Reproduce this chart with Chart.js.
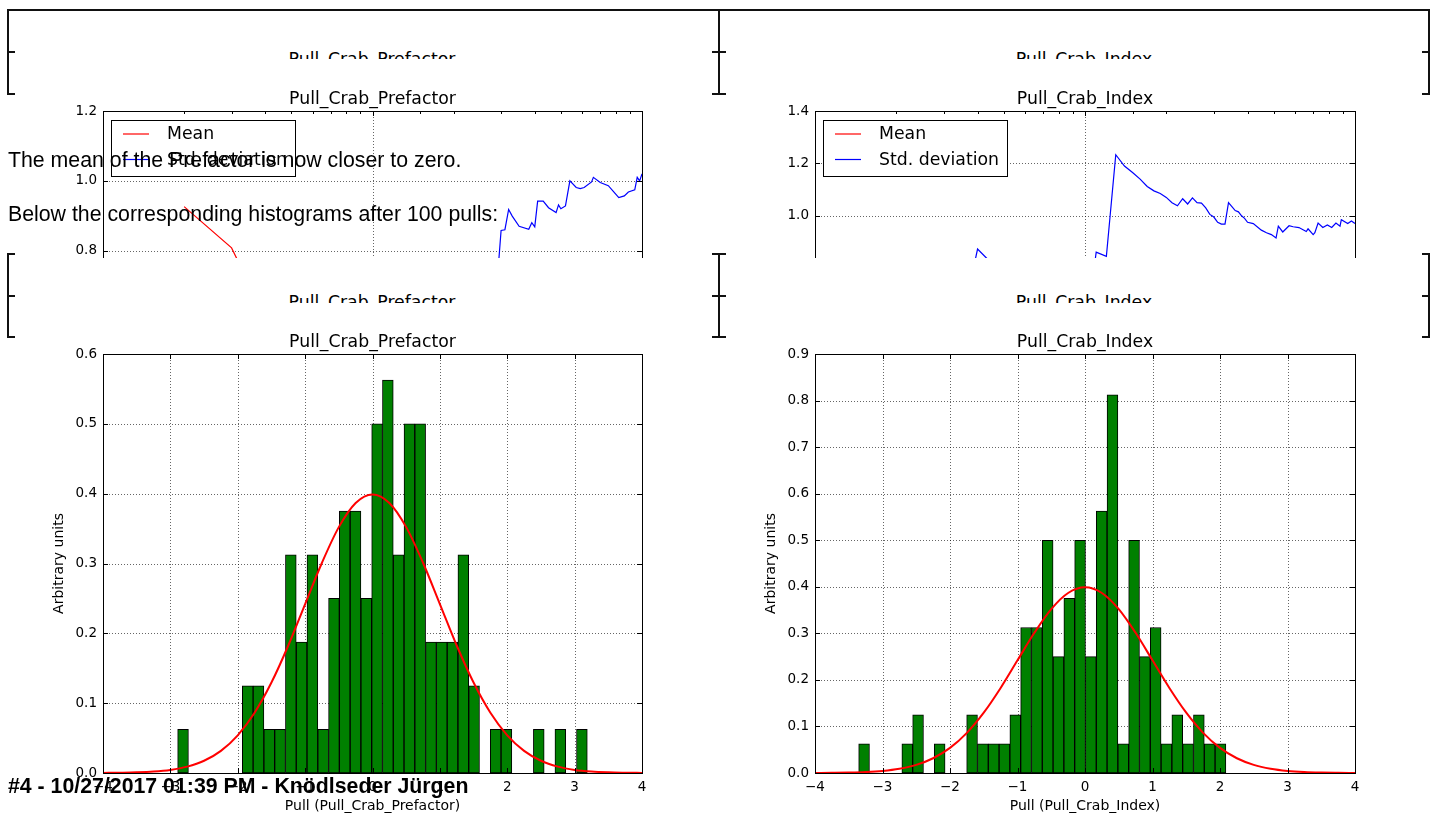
<!DOCTYPE html>
<html>
<head>
<meta charset="utf-8">
<script src="https://cdn.jsdelivr.net/npm/chart.js@4/dist/chart.umd.min.js"></script>
<style>
  html, body { margin:0; padding:0; background:#fff; width:1437px; height:819px; overflow:hidden; }
  .abs { position:absolute; }
  .ln { position:absolute; background:#111; }
  .clipT { position:absolute; overflow:hidden; height:8px; width:300px; }
  .clipT span { position:absolute; left:0; width:300px; text-align:center; top:-2.4px; font-family:"DejaVu Sans"; font-size:17.3px; line-height:20px; color:#000; white-space:nowrap; }
  .para { position:absolute; left:8px; font-family:"Liberation Sans", Arial, sans-serif; font-size:21.3px; line-height:21.3px; color:#000; white-space:nowrap; }
  .wrap { position:absolute; overflow:hidden; }
</style>
</head>
<body>
<!-- top (clipped) charts -->
<div class="wrap" style="left:0;top:60px;width:1437px;height:198px;">
  <canvas id="cTopL" width="620" height="492" style="position:absolute;left:47px;top:24px;width:620px;height:492px;"></canvas>
  <canvas id="cTopR" width="621" height="492" style="position:absolute;left:759px;top:24px;width:621px;height:492px;"></canvas>
</div>
<!-- histograms -->
<canvas id="cHistL" width="620" height="492" class="abs" style="left:47px;top:327px;width:620px;height:492px;"></canvas>
<canvas id="cHistR" width="621" height="492" class="abs" style="left:759px;top:327px;width:621px;height:492px;"></canvas>

<!-- clipped image titles -->
<div class="clipT" style="left:222px;top:51px;"><span>Pull_Crab_Prefactor</span></div>
<div class="clipT" style="left:934px;top:51px;"><span>Pull_Crab_Index</span></div>
<div class="clipT" style="left:222px;top:294px;height:8.7px;"><span>Pull_Crab_Prefactor</span></div>
<div class="clipT" style="left:934px;top:294px;height:8.7px;"><span>Pull_Crab_Index</span></div>

<!-- page text -->
<div class="para" style="top:150px;">The mean of the Prefactor is now closer to zero.</div>
<div class="para" style="top:204px;">Below the corresponding histograms after 100 pulls:</div>
<div class="para" style="top:775.5px;font-weight:bold;">#4 - 10/27/2017 01:39 PM - Knödlseder Jürgen</div>

<!-- table borders -->
<div class="ln" style="left:7px;top:9px;width:1423px;height:2px;"></div>
<div class="ln" style="left:7px;top:9px;width:2px;height:86px;"></div>
<div class="ln" style="left:718px;top:9px;width:2px;height:86px;"></div>
<div class="ln" style="left:1428px;top:9px;width:2px;height:86px;"></div>
<div class="ln" style="left:7px;top:51px;width:8px;height:2px;"></div>
<div class="ln" style="left:7px;top:93px;width:8px;height:2px;"></div>
<div class="ln" style="left:712px;top:51px;width:14px;height:2px;"></div>
<div class="ln" style="left:712px;top:93px;width:14px;height:2px;"></div>
<div class="ln" style="left:1422px;top:51px;width:8px;height:2px;"></div>
<div class="ln" style="left:1422px;top:93px;width:8px;height:2px;"></div>

<div class="ln" style="left:7px;top:253px;width:2px;height:85px;"></div>
<div class="ln" style="left:718px;top:253px;width:2px;height:85px;"></div>
<div class="ln" style="left:1428px;top:253px;width:2px;height:85px;"></div>
<div class="ln" style="left:7px;top:253px;width:8px;height:2px;"></div>
<div class="ln" style="left:7px;top:295px;width:8px;height:2px;"></div>
<div class="ln" style="left:7px;top:336px;width:8px;height:2px;"></div>
<div class="ln" style="left:712px;top:253px;width:14px;height:2px;"></div>
<div class="ln" style="left:712px;top:295px;width:14px;height:2px;"></div>
<div class="ln" style="left:712px;top:336px;width:14px;height:2px;"></div>
<div class="ln" style="left:1422px;top:253px;width:8px;height:2px;"></div>
<div class="ln" style="left:1422px;top:295px;width:8px;height:2px;"></div>
<div class="ln" style="left:1422px;top:336px;width:8px;height:2px;"></div>

<script>
// ---------------- data ----------------
// Histogram: Pull_Crab_Prefactor (bin centres, normalised density)
const prefactorBinCenters = [-2.812,-2.652,-2.492,-2.332,-2.172,-2.012,-1.852,-1.692,-1.532,-1.372,
  -1.212,-1.052,-0.892,-0.732,-0.572,-0.412,-0.252,-0.092,0.068,0.228,
  0.388,0.548,0.708,0.868,1.028,1.188,1.348,1.508,1.668,1.828,
  1.988,2.148,2.308,2.468,2.628,2.788,2.948,3.108];
const prefactorDensity = [0.0625,0,0,0,0,0,0.125,0.125,0.0625,0.0625,
  0.3125,0.1875,0.3125,0.0625,0.25,0.375,0.375,0.25,0.5,0.5625,
  0.3125,0.5,0.5,0.1875,0.1875,0.1875,0.3125,0.125,0,0.0625,
  0.0625,0,0,0.0625,0,0.0625,0,0.0625];

// Histogram: Pull_Crab_Index
const indexBinCenters = [-3.273,-3.113,-2.953,-2.793,-2.633,-2.473,-2.313,-2.153,-1.993,-1.833,
  -1.673,-1.513,-1.353,-1.193,-1.033,-0.873,-0.713,-0.553,-0.393,-0.233,
  -0.073,0.087,0.247,0.407,0.567,0.727,0.887,1.047,1.207,1.367,
  1.527,1.687,1.847,2.007];
const indexDensity = [0.0625,0,0,0,0.0625,0.125,0,0.0625,0,0,
  0.125,0.0625,0.0625,0.0625,0.125,0.3125,0.3125,0.5,0.25,0.375,
  0.5,0.25,0.5625,0.8125,0.0625,0.5,0.25,0.3125,0.0625,0.125,
  0.0625,0.125,0.0625,0.0625];

// Reference normal curve
const gaussX = [-4,-3.75,-3.5,-3.25,-3,-2.75,-2.5,-2.25,-2,-1.75,-1.5,-1.25,-1,-0.75,-0.5,-0.25,0,
  0.25,0.5,0.75,1,1.25,1.5,1.75,2,2.25,2.5,2.75,3,3.25,3.5,3.75,4];
const gaussY = [0.0001,0.0004,0.0009,0.002,0.0044,0.0091,0.0175,0.0317,0.054,0.0863,0.1295,0.1826,0.242,0.3011,0.3521,0.3867,0.3989,
  0.3867,0.3521,0.3011,0.242,0.1826,0.1295,0.0863,0.054,0.0317,0.0175,0.0091,0.0044,0.002,0.0009,0.0004,0.0001];

// Running mean / std vs number of pulls (only the visible part of the plots)
const meanPrefactorN = [2,3,4];
const meanPrefactorV = [0.926,0.808,0.61];
const stdPrefactorN = [29,30,31,32,33,35,38,39,40,41,43,45,48,49,50,52,54,57,59,61,65,66,70,75,79,82,86,89,94,96,98,100];
const stdPrefactorV = [0.71,0.858,0.86,0.918,0.899,0.87,0.861,0.88,0.868,0.942,0.942,0.923,0.909,0.931,0.92,0.928,1.0,0.981,0.978,0.981,0.997,1.01,0.995,0.986,0.966,0.952,0.957,0.968,0.974,1.01,1.0,1.02];

const meanIndexN = [];
const meanIndexV = [];
const stdIndexN = [3,4,5,10,11,12,13,14,15,16,17,18,19,20,21,22,23,24,25,26,27,28,29,30,31,32,33,34,35,36,37,38,39,40,42,45,47,49,51,52,54,57,59,62,66,67,70,71,73,76,79,82,85,88,89,94,97,100];
const stdIndexV = [0.27,0.873,0.772,0.525,0.861,0.845,1.233,1.19,1.165,1.14,1.112,1.095,1.085,1.07,1.05,1.038,1.065,1.045,1.068,1.05,1.048,1.03,1.005,0.995,0.975,0.968,0.968,1.05,1.035,1.02,1.015,1.0,0.99,0.975,0.97,0.945,0.935,0.928,0.915,0.96,0.938,0.962,0.958,0.955,0.94,0.95,0.928,0.935,0.972,0.955,0.965,0.955,0.972,0.96,0.985,0.97,0.98,0.97];

const titles = ['Pull_Crab_Prefactor', 'Pull_Crab_Index'];
const seriesLabels = ['Mean', 'Std. deviation'];
const yAxisLabel = 'Arbitrary units';

// ---------------- helpers ----------------
const pts = (xs, ys) => xs.map((x, i) => ({x: x, y: ys[i] === 0 ? null : ys[i]}));
const isDecade = v => Math.abs(Math.log10(v) - Math.round(Math.log10(v))) < 1e-9;
const minusFmt = v => v < 0 ? '\u2212' + Math.abs(v) : String(v);

Chart.defaults.font.family = '"DejaVu Sans", sans-serif';
Chart.defaults.color = '#000';

const mplAxes = {
  id: 'mplAxes',
  beforeDatasetsDraw(chart, args, opts) {
    const {ctx, chartArea: a, scales} = chart;
    ctx.save();
    ctx.strokeStyle = 'rgba(0,0,0,0.6)';
    ctx.lineWidth = 1;
    ctx.setLineDash([1, 2]);
    scales.x.ticks.forEach(t => {
      if (opts.logX && !isDecade(t.value)) return;
      const px = Math.round(scales.x.getPixelForValue(t.value)) + 0.5;
      ctx.beginPath(); ctx.moveTo(px, a.top); ctx.lineTo(px, a.bottom); ctx.stroke();
    });
    scales.y.ticks.forEach(t => {
      const py = Math.round(scales.y.getPixelForValue(t.value)) + 0.5;
      ctx.beginPath(); ctx.moveTo(a.left, py); ctx.lineTo(a.right, py); ctx.stroke();
    });
    ctx.restore();
  },
  afterDatasetsDraw(chart, args, opts) {
    const {ctx, chartArea: a, scales} = chart;
    ctx.save();
    ctx.setLineDash([]);
    ctx.strokeStyle = '#000';
    ctx.lineWidth = 1;
    // tick marks (inward, all sides)
    scales.x.ticks.forEach(t => {
      const len = (opts.logX && !isDecade(t.value)) ? 3 : 5;
      const px = Math.round(scales.x.getPixelForValue(t.value)) + 0.5;
      ctx.beginPath();
      ctx.moveTo(px, a.bottom); ctx.lineTo(px, a.bottom - len);
      ctx.moveTo(px, a.top); ctx.lineTo(px, a.top + len);
      ctx.stroke();
    });
    scales.y.ticks.forEach(t => {
      const py = Math.round(scales.y.getPixelForValue(t.value)) + 0.5;
      ctx.beginPath();
      ctx.moveTo(a.left, py); ctx.lineTo(a.left + 5, py);
      ctx.moveTo(a.right, py); ctx.lineTo(a.right - 5, py);
      ctx.stroke();
    });
    // frame
    ctx.strokeRect(Math.round(a.left) + 0.5, Math.round(a.top) + 0.5,
                   Math.round(a.right) - Math.round(a.left), Math.round(a.bottom) - Math.round(a.top));
    // legend
    if (opts.legend) {
      const bx = Math.round(a.left) + 8.5, by = Math.round(a.top) + 9.5;
      ctx.fillStyle = '#fff';
      ctx.fillRect(bx, by, 184, 56);
      ctx.strokeStyle = '#000';
      ctx.strokeRect(bx, by, 184, 56);
      ctx.font = '17.3px "DejaVu Sans"';
      ctx.textBaseline = 'middle';
      ctx.textAlign = 'left';
      chart.data.datasets.forEach((ds, i) => {
        const y = Math.round(a.top) + 23 + i * 25.5;
        ctx.strokeStyle = ds.borderColor;
        ctx.lineWidth = 1.2;
        ctx.beginPath(); ctx.moveTo(a.left + 20, y); ctx.lineTo(a.left + 46, y); ctx.stroke();
        ctx.fillStyle = '#000';
        ctx.fillText(ds.label, a.left + 64, y + 1);
      });
    }
    ctx.restore();
  }
};

function baseOptions(title, yMin, yMax, yStep) {
  return {
    responsive: false,
    animation: false,
    devicePixelRatio: 1,
    layout: {padding: {left: 0, right: 25, top: 0, bottom: 0}},
    plugins: {
      legend: {display: false},
      tooltip: {enabled: false},
      title: {display: true, fullSize: false, text: title, font: {size: 17.3, weight: 'normal'}, color: '#000',
              padding: {top: 4.8, bottom: 1.44}},
      mplAxes: {}
    },
    scales: {
      y: {
        min: yMin, max: yMax,
        grid: {display: false, drawTicks: false, tickLength: 0},
        border: {display: false},
        ticks: {stepSize: yStep, padding: 6, font: {size: 13.5}, color: '#000',
                callback: v => (Math.round(v * 10) / 10).toFixed(1)},
        afterFit: s => { s.width = 56; }
      }
    }
  };
}

function histChart(id, title, centers, dens, yMax, xTitle) {
  const opts = baseOptions(title, 0, yMax, 0.1);
  opts.scales.x = {
    type: 'linear', min: -4, max: 4, offset: false,
    grid: {display: false, drawTicks: false, tickLength: 0},
    border: {display: false},
    ticks: {stepSize: 1, padding: 6, font: {size: 13.5}, color: '#000', callback: v => minusFmt(v),
            maxRotation: 0, autoSkip: false},
    title: {display: true, text: xTitle, font: {size: 14}, color: '#000', padding: {top: 2, bottom: 4}},
    afterFit: s => { s.height = 46; }
  };
  opts.scales.y.title = {display: true, text: yAxisLabel, font: {size: 14}, color: '#000', padding: {top: 4, bottom: 4}};
  new Chart(document.getElementById(id), {
    type: 'bar',
    data: {
      datasets: [
        {type: 'line', order: 0, data: pts(gaussX, gaussY), borderColor: '#ff0000', borderWidth: 2,
         pointRadius: 0, fill: false, cubicInterpolationMode: 'monotone'},
        {type: 'bar', order: 1, data: pts(centers, dens), backgroundColor: '#008000', borderColor: '#000',
         borderWidth: 1, borderSkipped: false, barPercentage: 1, categoryPercentage: 1}
      ]
    },
    options: opts,
    plugins: [mplAxes]
  });
}

function trendChart(id, title, meanN, meanV, stdN, stdV, yMin, yMax) {
  const opts = baseOptions(title, yMin, yMax, 0.2);
  opts.plugins.mplAxes = {logX: true, legend: true};
  opts.scales.x = {
    type: 'logarithmic', min: 1, max: 100,
    grid: {display: false, drawTicks: false, tickLength: 0},
    border: {display: false},
    ticks: {display: false},
    afterFit: s => { s.height = 46; }
  };
  new Chart(document.getElementById(id), {
    type: 'line',
    data: {
      datasets: [
        {label: seriesLabels[0], data: pts(meanN, meanV), borderColor: '#ff0000', borderWidth: 1.2, pointRadius: 0, fill: false, tension: 0},
        {label: seriesLabels[1], data: pts(stdN, stdV), borderColor: '#0000ff', borderWidth: 1.2, pointRadius: 0, fill: false, tension: 0}
      ]
    },
    options: opts,
    plugins: [mplAxes]
  });
}

trendChart('cTopL', titles[0], meanPrefactorN, meanPrefactorV, stdPrefactorN, stdPrefactorV, 0, 1.2);
trendChart('cTopR', titles[1], meanIndexN, meanIndexV, stdIndexN, stdIndexV, -0.2, 1.4);
histChart('cHistL', titles[0], prefactorBinCenters, prefactorDensity, 0.6, 'Pull (Pull_Crab_Prefactor)');
histChart('cHistR', titles[1], indexBinCenters, indexDensity, 0.9, 'Pull (Pull_Crab_Index)');
</script>
</body>
</html>
